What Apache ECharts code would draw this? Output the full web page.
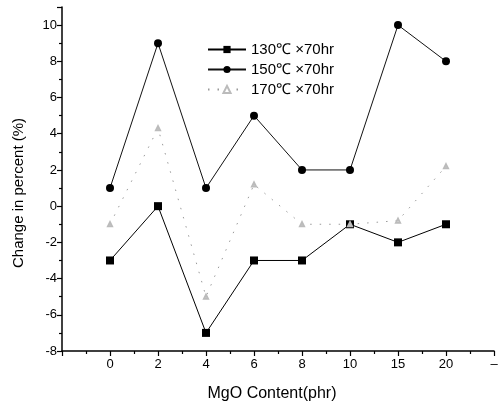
<!DOCTYPE html>
<html>
<head>
<meta charset="utf-8">
<script src="https://cdn.jsdelivr.net/npm/echarts@6/dist/echarts.min.js"></script>
<style>
    html, body { margin: 0; padding: 0; background: #fff; }
    #chart { width: 501px; height: 407px; }
</style>
</head>
<body>
<div id="chart"></div>
<script>
// x positions: blank slot, the 8 MgO contents, and the trailing dash label
const xLabels = ['', '0', '2', '4', '6', '8', '10', '15', '20', '–'];
const mgoContent = ['0', '2', '4', '6', '8', '10', '15', '20'];

const series130 = [-3, 0, -7, -3, -3, -1, -2, -1];
const series150 = [1, 9, 1, 5, 2, 2, 10, 8];
const series170 = [-1, 4.3, -5, 1.2, -1, -1, -0.8, 2.2];

const toPoints = values => values.map((v, i) => [xLabels.indexOf(mgoContent[i]), v]);

const font = 'Liberation Sans, Arial, sans-serif';

const myChart = echarts.init(document.getElementById('chart'));

const axisCommon = {
    axisLine: { show: true, onZero: false, lineStyle: { color: '#000', width: 1.5 } },
    axisTick: { show: true, inside: false, length: 5, lineStyle: { color: '#000', width: 1.2 } },
    minorTick: { show: true, splitNumber: 2, length: 3, lineStyle: { color: '#000', width: 1.2 } },
    splitLine: { show: false },
    minorSplitLine: { show: false },
    axisLabel: { color: '#000', fontSize: 13, fontFamily: font }
};

const option = {
    animation: false,
    grid: { left: 62, right: 7, top: 7, bottom: 54 },
    legend: {
        orient: 'vertical',
        left: 202,
        top: 37,
        itemWidth: 38,
        itemHeight: 9,
        itemGap: 5,
        selectedMode: false,
        textStyle: { color: '#000', fontSize: 15, fontFamily: font, lineHeight: 15 },
        data: ['130℃ ×70hr', '150℃ ×70hr', '170℃ ×70hr']
    },
    xAxis: {
        ...axisCommon,
        type: 'value',
        min: 0,
        max: 9,
        interval: 1,
        name: 'MgO Content(phr)',
        nameLocation: 'middle',
        nameGap: 35,
        nameTextStyle: { color: '#000', fontSize: 16, fontFamily: font, padding: [0, 12, 0, 0] },
        axisLabel: { ...axisCommon.axisLabel, margin: 7, formatter: v => xLabels[v] || '' }
    },
    yAxis: {
        ...axisCommon,
        type: 'value',
        min: -8,
        max: 11,
        interval: 2,
        name: 'Change in percent (%)',
        nameLocation: 'middle',
        nameGap: 36,
        nameTextStyle: { color: '#000', fontSize: 15, fontFamily: font, padding: [0, 28, 0, 0] },
        axisLabel: { ...axisCommon.axisLabel, margin: 5, formatter: v => (v % 2 === 0 ? String(v) : '') }
    },
    series: [
        {
            name: '130℃ ×70hr',
            type: 'line',
            data: toPoints(series130),
            symbol: 'rect',
            symbolSize: 8,
            itemStyle: { color: '#000' },
            lineStyle: { color: '#000', width: 1 }
        },
        {
            name: '150℃ ×70hr',
            type: 'line',
            data: toPoints(series150),
            symbol: 'circle',
            symbolSize: 8,
            itemStyle: { color: '#000' },
            lineStyle: { color: '#111', width: 1 }
        },
        {
            name: '170℃ ×70hr',
            type: 'line',
            data: toPoints(series170),
            symbol: 'emptyTriangle',
            symbolSize: 4,
            itemStyle: { color: '#bbb', borderColor: '#bbb', borderWidth: 0.5 },
            lineStyle: { color: '#999', width: 1, type: [1.5, 8] }
        }
    ]
};

myChart.setOption(option);

window.onresize = function () {
    myChart.resize();
};
</script>
</body>
</html>
